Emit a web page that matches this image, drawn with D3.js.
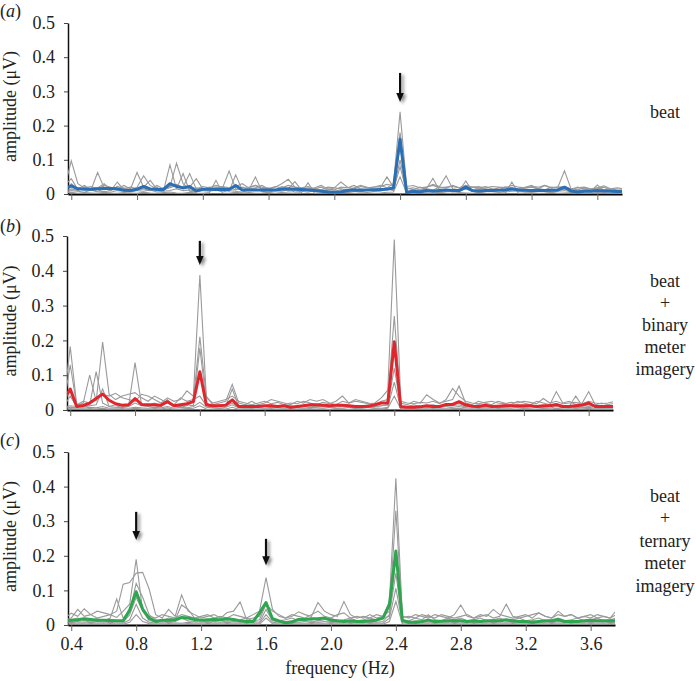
<!DOCTYPE html>
<html><head><meta charset="utf-8">
<script src="https://cdn.jsdelivr.net/npm/d3@7"></script>
<style>
body{margin:0;background:#fff;}
svg{display:block;}
svg text{font-family:"Liberation Serif", serif !important;}
</style>
</head><body><svg id="chart" width="696" height="681"></svg>
<script>
// frequency bins (Hz)
const frequencies = [0.36,0.40,0.44,0.48,0.52,0.56,0.60,0.64,0.68,0.72,
 0.76,0.80,0.84,0.88,0.92,0.96,1.00,1.04,1.08,1.12,
 1.16,1.20,1.24,1.28,1.32,1.36,1.40,1.44,1.48,1.52,
 1.56,1.60,1.64,1.68,1.72,1.76,1.80,1.84,1.88,1.92,
 1.96,2.00,2.04,2.08,2.12,2.16,2.20,2.24,2.28,2.32,
 2.36,2.40,2.44,2.48,2.52,2.56,2.60,2.64,2.68,2.72,
 2.76,2.80,2.84,2.88,2.92,2.96,3.00,3.04,3.08,3.12,
 3.16,3.20,3.24,3.28,3.32,3.36,3.40,3.44,3.48,3.52,
 3.56,3.60,3.64,3.68,3.72,3.76];
const xTicks = [0.4,0.8,1.2,1.6,2.0,2.4,2.8,3.2,3.6];
const yTicks = [0,0.1,0.2,0.3,0.4,0.5];
const freqDomain = [0.38,3.75];

// amplitudes in nV (0.001 µV)
// (a) beat
const beatMean = [15,24,15,14,14,15,16,16,15,11, 10,14,22,15,13,13,30,22,18,22, 9,14,14,13,14,13,25,12,12,12,
 12,12,12,14,15,14,13,12,10,8, 6,5,6,10,12,11,12,12,13,14, 18,160,4,8,6,10,8,10,12,10,
 10,20,10,9,10,10,11,12,15,12, 11,10,11,10,11,12,20,9,6,8, 8,10,9,8,7,7];
const beatS1 = [20,97,30,18,22,15,25,20,14,18, 12,20,53,25,15,18,22,28,20,60, 15,22,18,25,20,15,22,30,18,25,
 20,15,22,18,25,20,18,22,15,20, 12,18,35,20,15,22,18,20,25,18, 30,240,22,25,18,20,25,18,20,22,
 18,25,20,15,18,22,20,18,25,20, 18,22,20,25,18,20,22,15,18,20, 15,18,24,15,18,15];
const beatS2 = [10,30,15,25,12,63,18,10,22,15, 20,15,18,12,25,15,20,90,30,15, 18,12,20,15,22,18,12,20,15,18,
 25,15,20,30,43,20,15,12,18,25, 15,12,20,18,25,15,12,20,22,28, 25,180,15,18,12,20,28,22,53,15,
 12,25,20,18,22,15,12,20,18,15, 20,25,15,12,20,18,15,12,20,15, 10,18,12,15,12,10];
const beatS3 = [25,45,12,20,15,18,30,12,15,25, 15,63,20,40,15,12,18,25,15,20, 45,15,12,20,18,67,15,12,20,25,
 15,18,12,22,15,36,12,18,15,12, 20,18,15,12,18,25,20,15,18,50, 20,140,18,12,20,15,12,20,18,25,
 18,15,20,22,15,12,18,20,15,12, 18,20,15,25,18,20,68,15,12,18, 12,15,20,12,10,12];
const beatS4 = [8,15,10,20,12,8,15,10,35,12, 8,12,15,10,20,8,85,15,10,12, 8,15,12,10,15,8,56,12,10,15,
 8,12,10,15,8,12,10,15,8,12, 10,8,12,10,15,8,12,10,8,15, 10,100,8,12,10,15,46,10,8,12,
 10,15,8,12,10,8,12,15,10,8, 12,10,15,8,12,10,15,8,10,12, 8,26,10,8,10,8];
const beatS5 = [5,10,8,5,12,6,8,5,10,8, 6,10,8,12,6,8,10,15,60,8, 6,10,8,12,6,10,8,5,12,50,
 8,6,10,8,12,6,8,5,10,8, 6,8,5,10,8,6,12,8,10,15, 12,80,6,8,10,6,12,8,10,6,
 10,38,8,6,10,8,12,6,8,10, 6,8,10,12,6,8,10,6,8,10, 6,8,5,10,6,5];
const beatS6 = [3,5,2,4,3,2,5,3,2,4, 3,2,5,3,2,4,6,3,2,5, 3,2,4,40,3,2,5,3,4,2,
 3,5,2,4,3,2,4,33,2,3, 4,2,3,5,2,3,4,2,3,5, 6,50,3,2,4,3,2,5,3,2,
 4,3,2,5,3,2,4,3,35,2, 3,4,2,3,5,2,3,4,2,3, 2,4,3,2,3,2];

// (b) beat + binary meter imagery
const binaryMean = [29,60,10,13,20,33,46,28,18,14, 15,33,16,15,15,14,24,12,15,18, 24,110,15,12,12,14,29,10,10,10,
 10,12,12,10,12,8,10,12,15,15, 14,12,14,14,12,10,10,11,15,20, 20,196,9,8,8,9,12,10,10,16,
 16,24,15,11,10,14,10,11,12,12, 12,12,12,10,12,12,16,10,10,12, 14,20,10,10,10,10];
const binaryS1 = [20,182,15,25,20,30,45,40,48,35, 30,25,45,40,30,20,35,25,30,55, 40,388,35,20,25,30,40,25,20,15,
 20,25,18,22,15,20,18,25,20,15, 22,18,25,40,20,25,22,18,20,35, 57,490,25,20,18,22,20,25,18,30,
 62,40,25,20,18,22,25,20,18,22, 20,25,22,18,33,20,25,18,20,22, 18,25,20,18,20,25];
const binaryS2 = [15,130,12,20,100,25,195,45,30,40, 45,50,35,25,40,30,20,15,35,25, 30,210,40,15,20,25,74,20,15,25,
 15,20,30,25,20,15,25,20,30,25, 30,20,15,25,20,30,25,20,15,25, 30,270,20,15,25,20,44,30,20,25,
 30,69,20,15,25,20,15,25,20,15, 25,20,15,25,20,15,53,20,25,15, 20,53,15,20,15,20];
const binaryS3 = [10,40,8,12,15,110,20,10,15,12, 10,136,15,12,20,10,25,12,10,15, 12,178,20,10,15,12,60,10,15,12,
 10,12,15,10,12,8,10,15,12,10, 12,10,15,12,10,8,12,15,10,12, 15,180,12,10,15,10,12,15,10,12,
 15,20,10,12,15,10,12,10,15,12, 10,12,15,10,12,10,15,12,10,40, 12,15,10,12,10,12];
const binaryS4 = [8,12,10,8,12,15,60,10,8,12, 10,20,12,10,8,12,30,10,8,12, 30,40,12,8,10,12,20,8,10,12,
 8,10,12,8,10,12,8,10,12,8, 10,8,12,10,8,10,12,8,10,12, 15,120,10,8,10,12,8,10,12,10,
 12,15,8,10,12,8,10,12,8,10, 12,8,10,12,8,10,12,8,10,12, 8,10,12,8,10,8];
const binaryS5 = [5,8,6,5,8,6,10,5,6,8, 5,8,6,5,8,6,10,5,8,6, 10,22,8,6,5,8,15,6,5,8,
 6,5,8,6,5,8,6,5,8,6, 5,8,6,5,8,6,5,8,6,5, 8,80,6,5,8,6,5,8,6,5,
 8,10,6,5,8,6,5,8,6,5, 8,6,5,8,6,5,10,6,5,8, 6,8,5,6,5,6];
const binaryS6 = [2,4,3,2,4,3,5,2,3,4, 2,5,3,2,4,3,6,2,3,4, 5,12,3,2,4,3,8,2,3,4,
 2,3,4,2,3,4,2,3,4,2, 3,2,4,3,2,4,3,2,4,3, 5,40,3,2,4,3,2,4,3,2,
 4,5,3,2,4,3,2,4,3,2, 3,4,2,3,4,2,5,3,2,4, 3,5,2,3,2,3];

// (c) beat + ternary meter imagery
const ternaryMean = [12,14,15,18,16,14,14,13,12,12, 43,96,46,20,10,14,14,15,22,20, 16,14,15,16,15,18,16,12,10,10,
 35,65,18,12,6,9,16,16,18,18, 20,14,12,10,12,10,10,12,14,20, 58,214,13,8,8,10,14,10,11,12,
 12,12,10,12,10,12,12,12,15,12, 10,10,8,10,12,12,16,10,10,10, 12,14,12,12,12,12];
const ternaryS1 = [20,34,25,47,30,20,25,30,22,40, 60,190,40,25,20,30,25,20,30,25, 20,25,30,20,25,20,30,25,20,30,
 40,137,45,25,20,30,25,20,30,40, 25,20,30,35,20,25,20,30,20,25, 68,424,25,20,30,25,20,30,25,20,
 30,58,25,20,30,25,45,30,25,20, 25,30,20,35,25,20,40,25,30,20, 25,20,30,25,20,43];
const ternaryS2 = [15,20,45,25,30,40,35,30,40,118, 123,150,152,104,30,20,45,25,87,40, 30,20,25,30,20,36,40,67,16,20,
 25,60,40,30,20,25,38,30,25,65, 40,30,25,68,30,20,25,20,30,25, 40,330,22,25,20,30,25,20,30,25,
 20,25,30,20,25,30,20,25,60,25, 20,25,30,35,25,20,30,25,30,20, 25,30,20,25,20,30];
const ternaryS3 = [10,15,20,12,15,18,12,20,75,20, 40,120,80,30,15,12,20,15,58,45, 20,15,12,18,15,20,12,15,20,12,
 15,60,20,12,15,20,12,15,20,12, 15,20,12,15,20,12,15,20,15,20, 25,200,15,12,20,15,30,15,12,20,
 15,20,12,15,20,12,15,20,12,15, 20,12,15,20,12,15,20,12,15,20, 12,15,20,12,15,20];
const ternaryS4 = [8,12,10,8,12,10,8,12,10,8, 30,80,40,12,10,8,12,10,20,12, 10,8,12,10,8,12,10,8,12,10,
 8,45,12,8,10,12,8,10,12,8, 10,12,8,10,12,8,10,12,8,10, 30,150,10,8,12,10,8,12,10,8,
 12,10,8,12,10,8,12,10,8,12, 10,8,12,10,8,12,10,8,12,10, 8,12,10,8,12,10];
const ternaryS5 = [5,8,6,5,8,6,5,8,6,5, 15,60,20,8,6,5,8,6,5,8, 6,5,8,6,5,8,6,5,8,6,
 5,30,8,6,5,8,6,5,8,6, 5,8,6,5,8,6,5,8,6,5, 20,106,6,5,8,6,5,8,6,5,
 8,6,5,8,6,5,8,6,5,8, 6,5,8,6,5,8,6,5,8,6, 5,8,6,5,8,6];
const ternaryS6 = [2,4,3,2,4,3,2,4,3,2, 8,30,10,4,3,2,4,3,2,4, 3,2,4,3,2,4,3,2,4,3,
 2,20,4,3,2,4,3,2,4,3, 2,4,3,2,4,3,2,4,3,2, 10,68,3,2,4,3,2,4,3,2,
 4,3,2,4,3,2,4,3,2,4, 3,2,4,3,2,4,3,2,4,3, 2,4,3,2,4,3];

const panelLetters = ['a','b','c'];
const conditionLabels = [['beat'],['beat','+','binary','meter','imagery'],['beat','+','ternary','meter','imagery']];
// arrows: frequency, top value, tip value (µV)
const arrowsA = [[2.4,0.354,0.269]];
const arrowsB = [[1.2,0.486,0.417]];
const arrowsC = [[0.8,0.327,0.246],[1.6,0.249,0.173]];

const FONT = 'Liberation Serif';
const panels = [
 {mean: beatMean, subj:[beatS1,beatS2,beatS3,beatS4,beatS5,beatS6], color:'#2a6fb5', x0:68, x1:622, top:23, bottom:194, lblY:[118], letterY:17, arrows:arrowsA, showX:false},
 {mean: binaryMean, subj:[binaryS1,binaryS2,binaryS3,binaryS4,binaryS5,binaryS6], color:'#e0262c', x0:67, x1:613, top:236, bottom:410, lblY:[287,309,331,353,375], letterY:232, arrows:arrowsB, showX:false},
 {mean: ternaryMean, subj:[ternaryS1,ternaryS2,ternaryS3,ternaryS4,ternaryS5,ternaryS6], color:'#2ea54f', x0:68, x1:615, top:452, bottom:625, lblY:[502,524,547,569,592], letterY:446, arrows:arrowsC, showX:true}
];

const svg = d3.select('#chart');
const defs = svg.append('defs');
const flt = defs.append('filter').attr('id','shadow').attr('x','-100%').attr('y','-50%').attr('width','300%').attr('height','200%');
flt.append('feDropShadow').attr('dx',2.5).attr('dy',2).attr('stdDeviation',1.6).attr('flood-color','#000').attr('flood-opacity',0.45);

function addText(sel) { return sel.style('font-family', FONT); }

panels.forEach((p, pi) => {
  const x = d3.scaleLinear().domain(freqDomain).range([p.x0, p.x1]);
  const y = d3.scaleLinear().domain([0, 0.5]).range([p.bottom, p.top]);
  const g = svg.append('g');

  defs.append('clipPath').attr('id','clip'+pi).append('rect')
    .attr('x', p.x0).attr('y', p.top - 10).attr('width', p.x1 - p.x0).attr('height', p.bottom - p.top + 12);

  // y axis
  const ya = g.append('g').attr('transform', `translate(${p.x0},0)`)
    .call(d3.axisLeft(y).tickValues(yTicks).tickFormat(d => d === 0 ? '0' : d3.format('.1f')(d))
      .tickSize(4).tickPadding(9).tickSizeOuter(0));
  ya.attr('font-family', null).attr('font-size', 18);
  ya.select('.domain').attr('stroke', '#111').attr('stroke-width', 1.5);
  ya.selectAll('.tick line').attr('stroke', '#444');
  addText(ya.selectAll('.tick text').attr('fill', '#222'));

  // x axis
  const xa = g.append('g').attr('transform', `translate(0,${p.bottom})`)
    .call(d3.axisBottom(x).tickValues(xTicks).tickFormat(p.showX ? d3.format('.1f') : () => '')
      .tickSize(6).tickPadding(6).tickSizeOuter(0));
  xa.attr('font-family', null).attr('font-size', 18);
  xa.select('.domain').attr('stroke', '#000').attr('stroke-width', 2);
  xa.selectAll('.tick line').attr('stroke', '#666');
  addText(xa.selectAll('.tick text').attr('fill', '#222'));

  // lines
  const line = d3.line().x((d, i) => x(frequencies[i])).y(d => y(d / 1000));
  const lg = g.append('g').attr('clip-path', `url(#clip${pi})`);
  p.subj.forEach(s => {
    lg.append('path').datum(s).attr('d', line).attr('fill', 'none')
      .attr('stroke', '#9a9a9a').attr('stroke-width', 1.1);
  });
  lg.append('path').datum(p.mean).attr('d', line).attr('fill', 'none')
    .attr('stroke', p.color).attr('stroke-width', 3).attr('stroke-linejoin', 'round');

  // arrows
  p.arrows.forEach(a => {
    const ax = x(a[0]), yTop = y(a[1]), yTip = y(a[2]);
    const ag = g.append('g').attr('filter', 'url(#shadow)');
    ag.append('line').attr('x1', ax).attr('x2', ax).attr('y1', yTop).attr('y2', yTip - 6)
      .attr('stroke', '#111').attr('stroke-width', 2.2);
    ag.append('path').attr('d', `M${ax - 3.8},${yTip - 9}L${ax + 3.8},${yTip - 9}L${ax},${yTip}Z`).attr('fill', '#111');
  });

  // y label
  addText(g.append('text').attr('transform', `translate(16,${(p.top + p.bottom) / 2 - 2}) rotate(-90)`)
    .attr('text-anchor', 'middle').attr('font-size', 18).attr('fill', '#222').text('amplitude (μV)'));

  // panel letter
  const pl = addText(g.append('text').attr('x', 0).attr('y', p.letterY).attr('font-size', 18).attr('fill', '#222'));
  pl.append('tspan').text('(');
  pl.append('tspan').attr('font-style', 'italic').text(panelLetters[pi]);
  pl.append('tspan').text(')');

  // condition label
  conditionLabels[pi].forEach((t, k) => {
    addText(g.append('text').attr('x', 665).attr('y', p.lblY[k]).attr('text-anchor', 'middle')
      .attr('font-size', 18).attr('fill', '#222').text(t));
  });
});

addText(svg.append('text').attr('x', 340).attr('y', 674).attr('text-anchor', 'middle')
  .attr('font-size', 18).attr('fill', '#222').text('frequency (Hz)'));
</script>
</body></html>
